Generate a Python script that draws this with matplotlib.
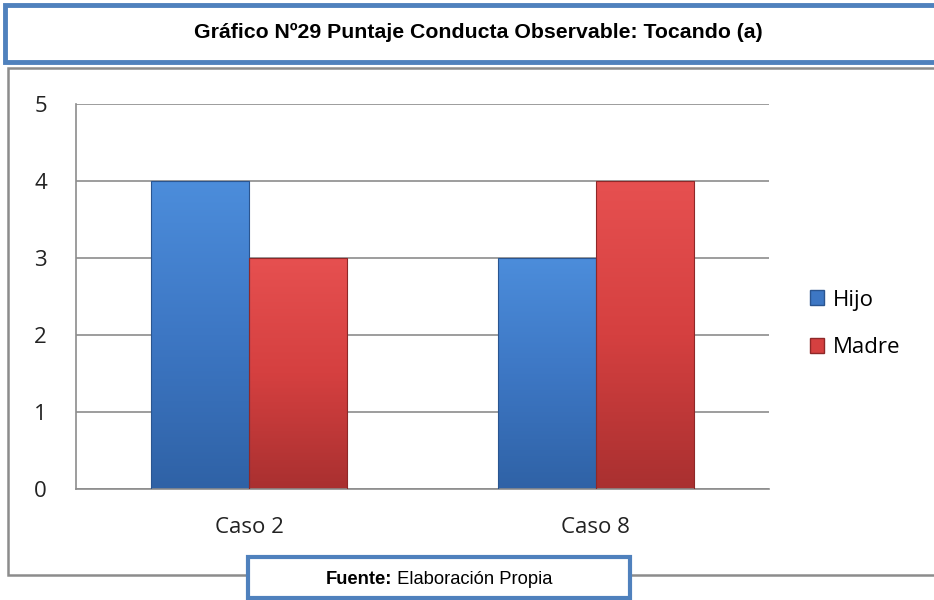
import numpy as np
import matplotlib.pyplot as plt
from matplotlib.patches import Rectangle
from matplotlib.colors import LinearSegmentedColormap

casos = ['Caso 2', 'Caso 8']
hijo = [4, 3]
madre = [3, 4]
series = ['Hijo', 'Madre']
yticks = [0, 1, 2, 3, 4, 5]

titulo = 'Gráfico Nº29 Puntaje Conducta Observable: Tocando (a)'

W, H = 934, 600
fig = plt.figure(figsize=(W / 100, H / 100), dpi=100)


def px(x, y):
    # pixel coords (top-left origin) -> figure fraction
    return x / W, 1 - y / H


# title box
x0, y0 = px(5, 62)
fig.patches.append(Rectangle((x0, y0), 1.1, 57 / H, transform=fig.transFigure,
                             facecolor='white', edgecolor='#4F81BD', lw=3.5, zorder=1))
fig.text(478 / W, 1 - 32 / H, titulo, ha='center', va='center',
         fontsize=15.3, fontweight='bold', family='Liberation Sans')

# chart frame
x0, y0 = px(8, 575)
fig.patches.append(Rectangle((x0, y0), 1.1, 507 / H, transform=fig.transFigure,
                             facecolor='white', edgecolor='#8c8c8c', lw=1.8, zorder=1))

ax = fig.add_axes([76 / W, 1 - 489 / H, (769 - 76) / W, (489 - 104) / H])
ax.set_facecolor('none')
ax.set_zorder(2)

x = np.arange(len(casos))
w = 0.283
blue = LinearSegmentedColormap.from_list('b', ['#4C8DDB', '#3D77C4', '#2F62A6'])
red = LinearSegmentedColormap.from_list('r', ['#E65050', '#D54040', '#A93030'])
grad = np.linspace(0, 1, 256).reshape(-1, 1)

for vals, off, cmap, ec in [(hijo, -w / 2, blue, '#2A5590'), (madre, w / 2, red, '#8E2828')]:
    bars = ax.bar(x + off, vals, w, color='none', edgecolor=ec, lw=0.8, zorder=3)
    for b in bars:
        bx, by = b.get_x(), b.get_y()
        bw, bh = b.get_width(), b.get_height()
        im = ax.imshow(grad, cmap=cmap, aspect='auto', extent=[bx, bx + bw, by, by + bh],
                       origin='upper', zorder=2)
        im.set_clip_path(b)

ax.set_xlim(-0.5, 1.5)
ax.set_ylim(0, 5)
ax.set_yticks(yticks)
ax.set_xticks(x)
ax.set_xticklabels(casos)
ax.yaxis.grid(True, color='#8c8c8c', lw=1.2)
ax.set_axisbelow(True)
for s in ['top', 'right']:
    ax.spines[s].set_visible(False)
ax.spines['left'].set_color('#8c8c8c')
ax.spines['bottom'].set_color('#8c8c8c')
ax.spines['left'].set_linewidth(1.2)
ax.spines['bottom'].set_linewidth(1.2)
ax.tick_params(axis='y', length=0, pad=21, labelsize=16)
ax.tick_params(axis='x', length=0, pad=20, labelsize=16)
for lab in ax.get_xticklabels() + ax.get_yticklabels():
    lab.set_family('Open Sans')
    lab.set_color('#222222')

handles = [Rectangle((0, 0), 1, 1, facecolor='#3D77C4', edgecolor='#2A5590'),
           Rectangle((0, 0), 1, 1, facecolor='#D54040', edgecolor='#8E2828')]
fig.legend(handles, series, loc='center left', bbox_to_anchor=(801 / W, 1 - 324 / H),
           frameon=False, prop={'family': 'Open Sans', 'size': 16}, borderaxespad=0,
           handlelength=0.65, handleheight=0.65, handletextpad=0.4, labelspacing=1.2)

# footer box
x0, y0 = px(248, 598)
fig.patches.append(Rectangle((x0, y0), 382 / W, 41 / H, transform=fig.transFigure,
                             facecolor='white', edgecolor='#4F81BD', lw=3, zorder=5))
fig.text(392 / W, 1 - 580 / H, 'Fuente:', ha='right', va='center', fontsize=13.2,
         fontweight='bold', family='Liberation Sans', zorder=6)
fig.text(392 / W, 1 - 580 / H, ' Elaboración Propia', ha='left', va='center',
         fontsize=13.2, family='Liberation Sans', zorder=6)

fig.savefig('out.png', dpi=100)
